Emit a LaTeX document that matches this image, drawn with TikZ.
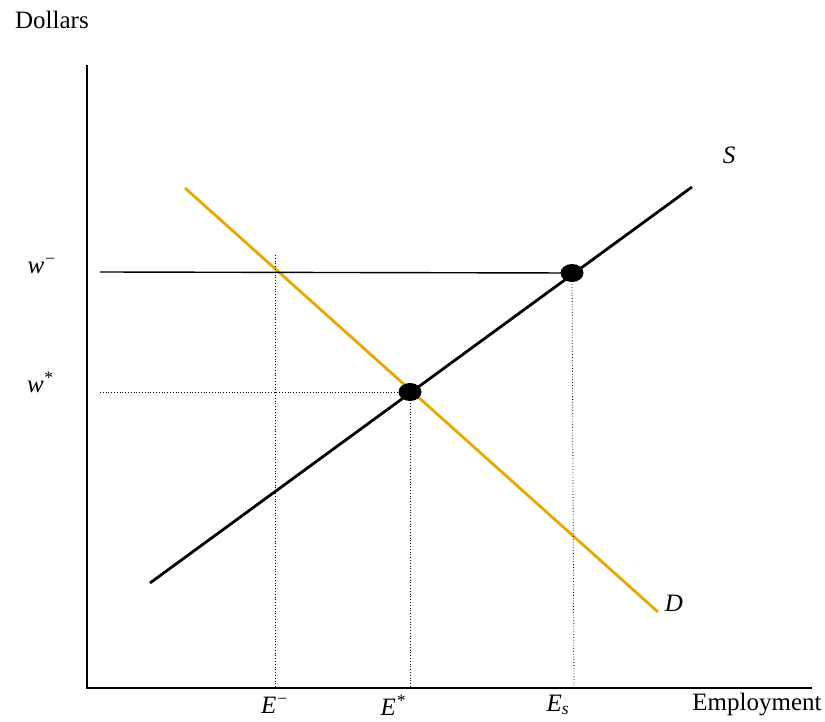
\documentclass[tikz,border=0pt]{standalone}
\usepackage{fontspec}
\setmainfont{Liberation Serif}
\usetikzlibrary{shapes.geometric}
\definecolor{demand}{RGB}{232,168,0}

\begin{document}
\begin{tikzpicture}[x=1pt, y=-1pt,
  axis/.style={line width=2pt},
  curve/.style={line width=2.8pt},
  guide/.style={dotted, line width=0.8pt},
  dot/.style={ellipse, fill=black, minimum width=23pt, minimum height=18pt, inner sep=0pt},
  lbl/.style={font=\fontsize{25}{30}\selectfont\itshape, inner sep=0pt},
  txt/.style={font=\fontsize{25}{30}\selectfont, inner sep=0pt}
]
  \useasboundingbox (0,0) rectangle (825,722);

  % axes
  \coordinate (origin) at (87,688);
  \coordinate (ytop) at (87,65);
  \coordinate (xend) at (812,688);
  \draw[axis] (ytop) -- (origin) -- (xend);
  \node[txt, anchor=west] (dollars) at (15,20) {Dollars};
  \node[txt] (employ) at (757,705) {Employment};

  % supply and demand
  \coordinate (s0) at (150,583);
  \coordinate (s1) at (692,187);
  \coordinate (d0) at (185,188);
  \coordinate (d1) at (658,612);
  \draw[curve, demand] (d0) -- (d1);
  \draw[curve] (s0) -- (s1);
  \node[lbl] (slab) at (729,155) {S};
  \node[lbl] (dlab) at (674,603) {D};

  % equilibrium and surplus points
  \node[dot] (eq) at (410,392) {};
  \node[dot] (hi) at (572,273) {};

  % guides
  \coordinate (wmin) at (100,272);
  \coordinate (wstar) at (100,392);
  \coordinate (emtop) at (275,255);
  \coordinate (emfoot) at (275,688);
  \coordinate (esfoot) at (410,688);
  \coordinate (ssfoot) at (574,688);
  \draw[line width=1.4pt] (wmin) -- (hi.center);
  \draw[guide] (wstar) -- (eq.center);
  \draw[guide] (emtop) -- (emfoot);
  \draw[guide] (eq.center) -- (esfoot);
  \draw[guide] (hi.center) -- (ssfoot);

  % labels
  \node[lbl] (wm) at (42,266) {w\textsuperscript{−}};
  \node[lbl] (ws) at (40,382) {w\textsuperscript{*}};
  \node[lbl] (em) at (275,705) {E\textsuperscript{−}};
  \node[lbl] (es) at (393,705) {E\textsuperscript{*}};
  \node[lbl] (ess) at (558,705) {E\textsubscript{s}};
\end{tikzpicture}
\end{document}
